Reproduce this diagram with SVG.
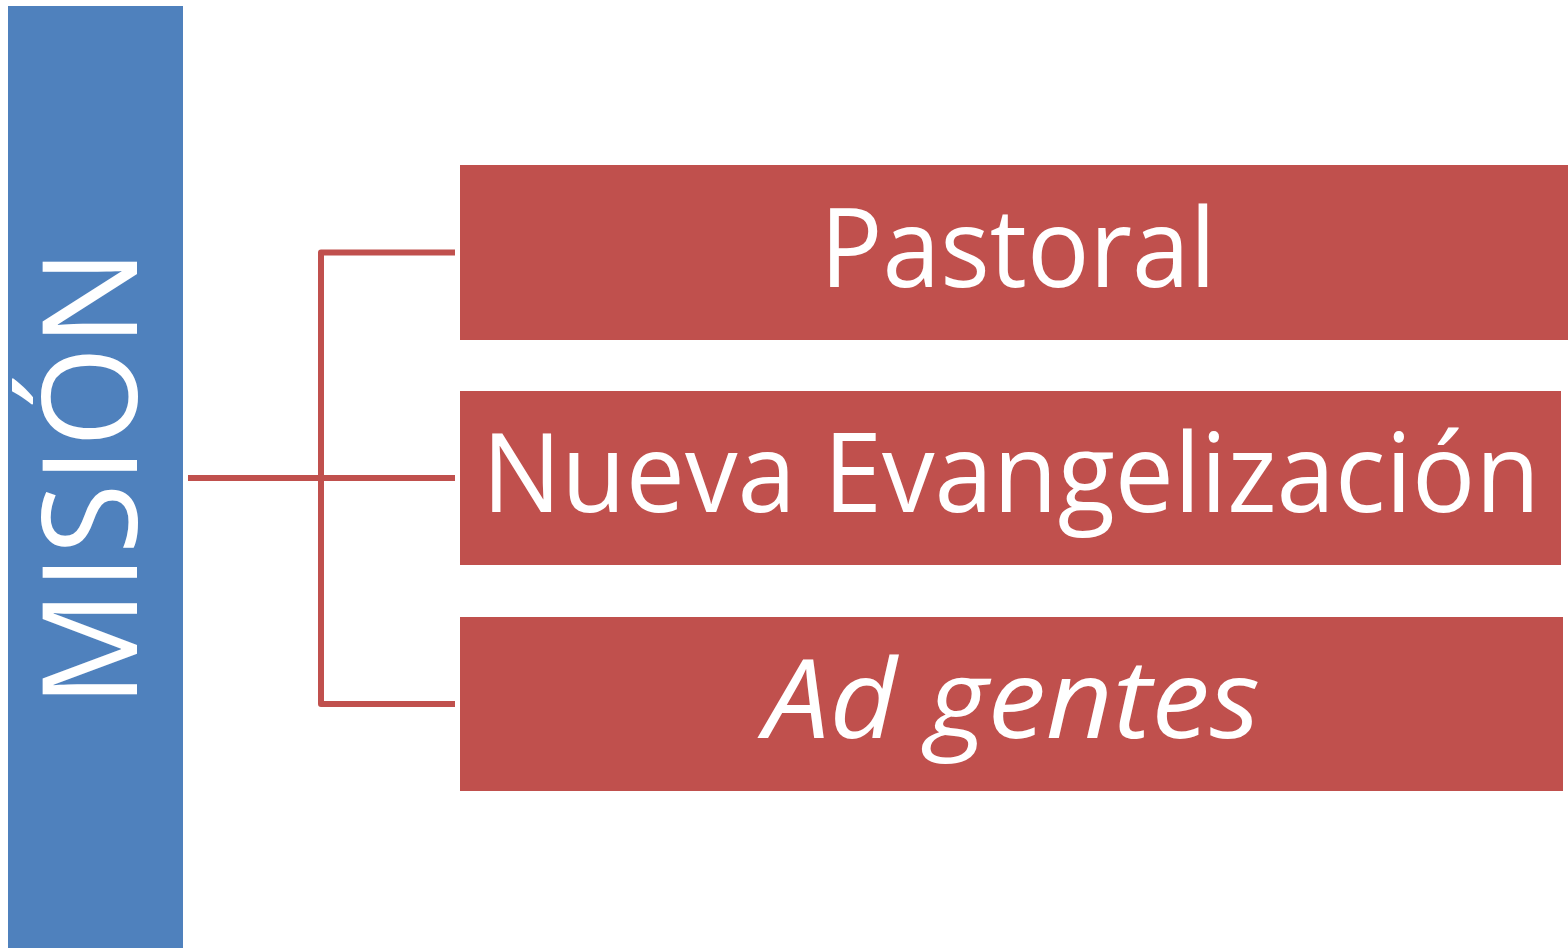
<svg xmlns="http://www.w3.org/2000/svg" width="1568" height="948" viewBox="0 0 1568 948">
<style>
.box{fill:#C0504D}
.t{fill:#fff;font-family:"Open Sans","Noto Sans",sans-serif;font-size:109px;text-anchor:middle}
.c{stroke:#C0504D;stroke-width:6;fill:none;stroke-linejoin:round}
</style>
<rect width="1568" height="948" fill="#fff"/>
<g id="mision">
<rect x="8" y="6" width="175" height="942" fill="#4F81BD"/>
<text class="t" style="font-size:132px" transform="translate(137,478) rotate(-90)" x="0" y="0" textLength="458" lengthAdjust="spacingAndGlyphs">MISIÓN</text>
</g>
<g id="connectors">
<path class="c" d="M188,478 H455"/>
<path class="c" d="M455,252.5 H321 V704 H455"/>
</g>
<g id="pastoral">
<rect class="box" x="460" y="165" width="1108" height="175"/>
<text class="t" x="1018" y="287" textLength="396" lengthAdjust="spacingAndGlyphs">Pastoral</text>
</g>
<g id="nueva">
<rect class="box" x="460" y="391" width="1101" height="174"/>
<text class="t" x="1011" y="512" textLength="1058" lengthAdjust="spacingAndGlyphs">Nueva Evangelización</text>
</g>
<g id="adgentes">
<rect class="box" x="460" y="617" width="1103" height="174"/>
<text class="t" x="1012" y="738" font-style="italic" textLength="496" lengthAdjust="spacingAndGlyphs">Ad gentes</text>
</g>
</svg>
